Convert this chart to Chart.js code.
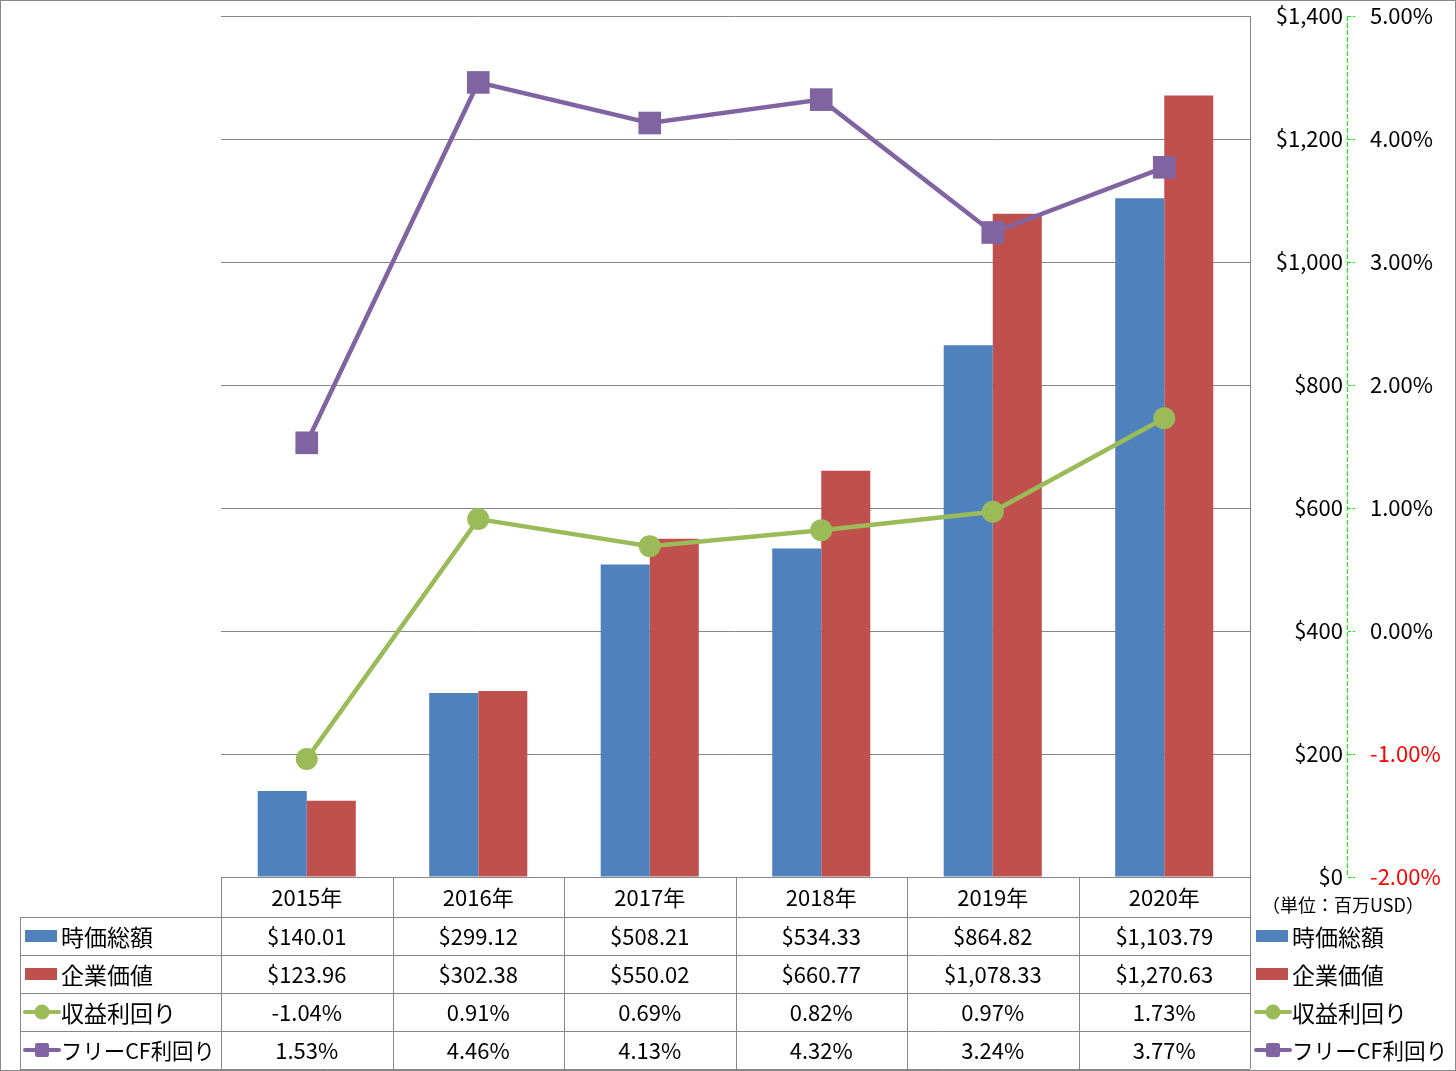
<!DOCTYPE html>
<html>
<head>
<meta charset="utf-8">
<script src="https://cdn.jsdelivr.net/npm/chart.js@4.4.0/dist/chart.umd.min.js"></script>
<style>
  html, body { margin: 0; padding: 0; background: #fff; overflow: hidden; }
  canvas { display: block; }
</style>
</head>
<body>
<canvas id="myChart" width="1456" height="1071"></canvas>
<script>
// chart data
const years = ['2015年', '2016年', '2017年', '2018年', '2019年', '2020年'];
const marketCap = [140.01, 299.12, 508.21, 534.33, 864.82, 1103.79];
const enterpriseValue = [123.96, 302.38, 550.02, 660.77, 1078.33, 1270.63];
const earningsYield = [-1.04, 0.91, 0.69, 0.82, 0.97, 1.73];
const fcfYield = [1.53, 4.46, 4.13, 4.32, 3.24, 3.77];
const seriesNames = ['時価総額', '企業価値', '収益利回り', 'フリーCF利回り'];
const seriesColors = ['#4F81BD', '#C0504D', '#9BBB59', '#8064A2'];
const unitLabel = '（単位：百万USD）';

const FONT = "'Noto Sans CJK JP', 'Noto Sans', sans-serif";
const GRID = '#878787';
const AXIS_GREEN = '#00FF00';

const money = v => '$' + v.toLocaleString('en-US', {minimumFractionDigits: 2, maximumFractionDigits: 2});
const pct = v => v.toFixed(2) + '%';

// table rows: name index, values, formatter
const tableRows = [
    [0, marketCap, money],
    [1, enterpriseValue, money],
    [2, earningsYield, pct],
    [3, fcfYield, pct]
];

// legend marker (box for bars, line + dot/square for lines)
function drawMarker(ctx, i, x, y) {
    ctx.save();
    ctx.fillStyle = seriesColors[i];
    ctx.strokeStyle = seriesColors[i];
    if (i < 2) {
        ctx.fillRect(x, y - 6, 32, 12);
    } else {
        ctx.lineWidth = 4;
        ctx.lineCap = 'round';
        ctx.beginPath();
        ctx.moveTo(x, y);
        ctx.lineTo(x + 34, y);
        ctx.stroke();
        ctx.beginPath();
        if (i === 2) {
            ctx.arc(x + 17, y, 7.5, 0, Math.PI * 2);
        } else {
            ctx.roundRect(x + 10, y - 7, 14, 14, 2);
        }
        ctx.fill();
    }
    ctx.restore();
}

// legend label, shrunk a little if it would not fit the column
function drawLabel(ctx, text, x, y, maxW) {
    let size = 23;
    ctx.font = size + 'px ' + FONT;
    const w = ctx.measureText(text).width;
    if (w > maxW) {
        size = Math.floor(size * maxW / w * 10) / 10;
        ctx.font = size + 'px ' + FONT;
    }
    ctx.fillStyle = '#000';
    ctx.fillText(text, x, y);
}

// no half-label padding on the value axes, so the plot area sits where the layout says
const noPad = s => { s.paddingTop = 0; s.paddingBottom = 0; };

const tablePlugin = {
    id: 'dataTable',
    afterDraw(chart) {
        const ctx = chart.ctx;
        const x = chart.scales.x;
        const y1 = chart.scales.y1;
        const area = chart.chartArea;
        const step = (area.right - area.left) / years.length;
        const headTop = area.bottom;
        const rowTop = x.bottom;
        const rowH = 38;
        const tableBottom = rowTop + rowH * tableRows.length;
        const legendLeft = 20;

        ctx.save();
        ctx.strokeStyle = GRID;
        ctx.lineWidth = 1;
        ctx.beginPath();
        // horizontal lines
        ctx.moveTo(area.left, headTop + 0.5);
        ctx.lineTo(area.right, headTop + 0.5);
        for (let r = 0; r <= tableRows.length; r++) {
            const yy = Math.round(rowTop + r * rowH) + 0.5;
            ctx.moveTo(legendLeft, yy);
            ctx.lineTo(area.right, yy);
        }
        // vertical lines
        for (let c = 0; c <= years.length; c++) {
            const xx = Math.round(area.left + c * step) + 0.5;
            ctx.moveTo(xx, c === years.length ? area.top : headTop);
            ctx.lineTo(xx, tableBottom);
        }
        ctx.moveTo(legendLeft + 0.5, rowTop);
        ctx.lineTo(legendLeft + 0.5, tableBottom);
        ctx.stroke();

        // dashed green percent axis with its tick marks
        const ax = Math.round(y1.left + 4);
        ctx.fillStyle = AXIS_GREEN;
        for (let yy = Math.round(y1.top); yy < y1.bottom; yy += 7) {
            ctx.fillRect(ax, yy, 1, Math.min(5, y1.bottom - yy + 1));
        }
        y1.ticks.forEach(t => {
            const ty = Math.round(y1.getPixelForValue(t.value));
            ctx.fillRect(ax + 1, ty, 3, 1);
            ctx.fillRect(ax + 6, ty, 2, 1);
        });

        // values + legends
        ctx.textBaseline = 'middle';
        tableRows.forEach(([si, vals, fmt], r) => {
            const cy = rowTop + r * rowH + rowH / 2;
            ctx.fillStyle = '#000';
            ctx.textAlign = 'center';
            ctx.font = '22px ' + FONT;
            vals.forEach((v, c) => {
                ctx.fillText(fmt(v), x.getPixelForValue(c), cy + 1);
            });
            ctx.textAlign = 'left';
            drawMarker(ctx, si, legendLeft + 5, cy);
            drawLabel(ctx, seriesNames[si], legendLeft + 41, cy + 1, 154);
            drawMarker(ctx, si, area.right + 6, cy);
            drawLabel(ctx, seriesNames[si], area.right + 42, cy + 1, 156);
        });

        // unit note
        ctx.font = '18px ' + FONT;
        ctx.fillStyle = '#000';
        ctx.textAlign = 'left';
        ctx.fillText(unitLabel, area.right + 12, headTop + 28);

        // outer frame
        ctx.strokeStyle = GRID;
        ctx.strokeRect(0.5, 0.5, chart.width - 1, chart.height - 1);
        ctx.restore();
    }
};

const ctx = document.getElementById('myChart').getContext('2d');
const myChart = new Chart(ctx, {
    type: 'bar',
    data: {
        labels: years,
        datasets: [
            {
                type: 'line', label: seriesNames[3], data: fcfYield, yAxisID: 'y1', order: 0,
                borderColor: seriesColors[3], backgroundColor: seriesColors[3], borderWidth: 4.5,
                pointStyle: 'rect', pointRadius: 16, pointHoverRadius: 16, pointBorderWidth: 0
            },
            {
                type: 'line', label: seriesNames[2], data: earningsYield, yAxisID: 'y1', order: 1,
                borderColor: seriesColors[2], backgroundColor: seriesColors[2], borderWidth: 4.5,
                pointStyle: 'circle', pointRadius: 11, pointHoverRadius: 11, pointBorderWidth: 0
            },
            {
                label: seriesNames[0], data: marketCap, yAxisID: 'y', order: 2,
                backgroundColor: seriesColors[0], categoryPercentage: 0.572, barPercentage: 1
            },
            {
                label: seriesNames[1], data: enterpriseValue, yAxisID: 'y', order: 3,
                backgroundColor: seriesColors[1], categoryPercentage: 0.572, barPercentage: 1
            }
        ]
    },
    options: {
        responsive: false,
        animation: false,
        devicePixelRatio: 1,
        layout: { padding: { left: 221, top: 15, right: 0, bottom: 154 } },
        plugins: { legend: { display: false }, tooltip: { enabled: false } },
        scales: {
            x: {
                grid: { display: false, drawTicks: false },
                border: { display: false },
                ticks: { color: '#000', font: { family: FONT, size: 22 }, padding: 7, maxRotation: 0 },
                afterFit: s => { s.height = 40; }
            },
            y: {
                position: 'right',
                min: 0, max: 1400,
                grid: { color: GRID, drawTicks: false },
                border: { display: true, color: GRID },
                ticks: {
                    stepSize: 200, crossAlign: 'far', color: '#000',
                    font: { family: FONT, size: 22 },
                    callback: v => '$' + v.toLocaleString('en-US')
                },
                afterFit: s => { s.width = 93; noPad(s); }
            },
            y1: {
                position: 'right',
                min: -2, max: 5,
                grid: { display: false, drawTicks: false },
                border: { display: false },
                ticks: {
                    stepSize: 1, padding: 27,
                    font: { family: FONT, size: 22 },
                    color: c => (c.tick && c.tick.value < 0) ? '#FF0000' : '#000',
                    callback: v => v.toFixed(2) + '%'
                },
                afterFit: s => { s.width = 113; noPad(s); }
            }
        }
    },
    plugins: [tablePlugin]
});
</script>
</body>
</html>
